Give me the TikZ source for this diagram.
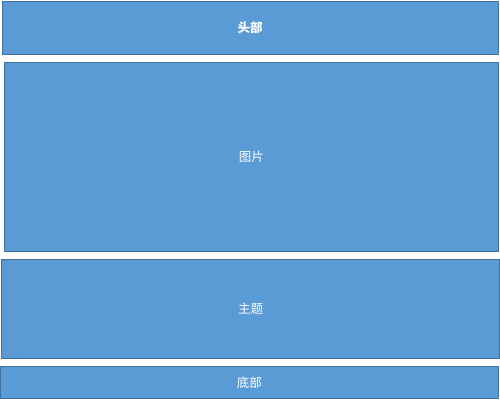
\documentclass[tikz,border=0pt]{standalone}
\usepackage{fontspec}
\newfontfamily\cjk{Noto Sans CJK SC}
\definecolor{boxfill}{HTML}{5B9BD5}
\definecolor{boxline}{HTML}{41719C}
\tikzset{
  panel/.style={draw=boxline, line width=0.8pt, fill=boxfill},
  lbl/.style={text=white, font=\cjk\fontsize{12.5}{14}\selectfont, inner sep=0pt},
}
\begin{document}
\begin{tikzpicture}[x=1pt,y=-1pt]
\useasboundingbox (0,0) rectangle (500,400);
\fill[white] (0,0) rectangle (500,400);
\draw[panel] (2,1.5) rectangle (498,54) node[pos=0.5, lbl, font=\cjk\bfseries\fontsize{12.5}{14}\selectfont] (head) {头部};
\draw[panel] (4,62) rectangle (498.5,251) node[pos=0.5, lbl] (pic) {图片};
\draw[panel] (1.5,259.5) rectangle (499.5,358.5) node[pos=0.5, lbl] (topic) {主题};
\draw[panel] (0.5,366.5) rectangle (498,398.5) node[pos=0.5, lbl] (foot) {底部};
\end{tikzpicture}
\end{document}
